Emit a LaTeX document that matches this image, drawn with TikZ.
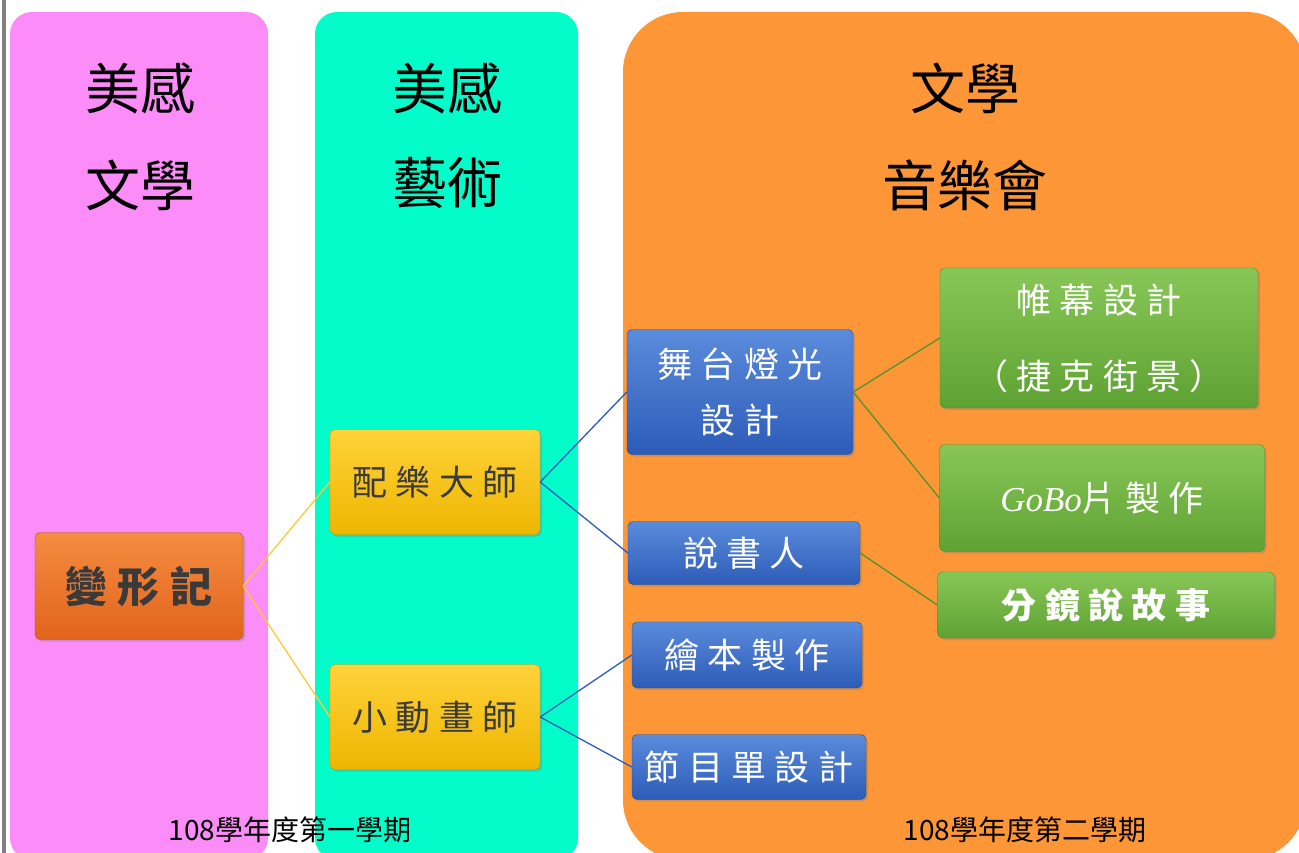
\documentclass[tikz,border=0pt]{standalone}
\usepackage{fontspec}
\newfontfamily\cjk{Noto Sans CJK TC}
\newfontfamily\cjkwide[LetterSpace=24]{Noto Sans CJK TC}
\newfontfamily\gobofont{Liberation Serif}
\usetikzlibrary{shadows}

\definecolor{pinkpanel}{HTML}{FB8CF8}
\definecolor{cyanpanel}{HTML}{02FCCA}
\definecolor{orangepanel}{HTML}{FD9637}
\definecolor{rusttop}{HTML}{F48C40}
\definecolor{rustbot}{HTML}{E2641C}
\definecolor{goldtop}{HTML}{FFD23A}
\definecolor{goldbot}{HTML}{EEB600}
\definecolor{bluetop}{HTML}{5B8BDB}
\definecolor{bluebot}{HTML}{2D5CB8}
\definecolor{greentop}{HTML}{88C757}
\definecolor{greenbot}{HTML}{5EA233}
\definecolor{inkgray}{HTML}{3A3A3A}

\begin{document}
\begin{tikzpicture}[x=1pt,y=-1pt,
  title/.style={font=\cjk\fontsize{55}{60}\selectfont, text=black},
  term/.style={font=\cjk\fontsize{28}{32}\selectfont, text=black},
  box/.style={rounded corners=5pt, inner sep=0pt, align=center,
    drop shadow={shadow xshift=2pt, shadow yshift=-2pt, opacity=0.35}},
  rustbox/.style={box, draw=rustbot!80!black, top color=rusttop, bottom color=rustbot,
    text=inkgray, font=\cjkwide\bfseries\fontsize{42}{48}\selectfont},
  goldbox/.style={box, draw=goldbot!85!black, top color=goldtop, bottom color=goldbot,
    text=inkgray, font=\cjkwide\fontsize{35}{40}\selectfont},
  bluebox/.style={box, draw=bluebot!80!black, top color=bluetop, bottom color=bluebot,
    text=white, font=\cjkwide\fontsize{35}{56}\selectfont},
  greenbox/.style={box, draw=greenbot!85!black, top color=greentop, bottom color=greenbot,
    text=white, font=\cjkwide\fontsize{35}{76}\selectfont},
  link/.style={line width=1.3pt}
]
\useasboundingbox (0,0) rectangle (1299,853);
\fill[white] (0,0) rectangle (1299,853);

% panels
\fill[pinkpanel, rounded corners=22] (10,12) rectangle (268,860);
\fill[cyanpanel, rounded corners=22] (315,12) rectangle (578,860);
\fill[orangepanel, rounded corners=60] (623,12) rectangle (1306,860);
\draw[gray, line width=4pt] (4,0) -- (4,853);

% titles
\node[title] (p1a) at (140,88) {美感};
\node[title] (p1b) at (140,185) {文學};
\node[title] (p2a) at (447,88) {美感};
\node[title] (p2b) at (447,183) {藝術};
\node[title] (p3a) at (965,88) {文學};
\node[title] (p3b) at (965,185) {音樂會};

% boxes
\node[rustbox, minimum width=208, minimum height=107] (bx) at (139,586) {變形記};
\node[goldbox, minimum width=210, minimum height=105] (pe) at (435,482) {配樂大師};
\node[goldbox, minimum width=210, minimum height=105] (xd) at (435,717) {小動畫師};

\node[bluebox, minimum width=226, minimum height=125] (wt) at (740,392) {舞台燈光\\設計};
\node[bluebox, minimum width=232, minimum height=63] (ss) at (744,553) {說書人};
\node[bluebox, minimum width=230, minimum height=66] (hb) at (747,655) {繪本製作};
\node[bluebox, minimum width=234, minimum height=65] (jm) at (749,767) {節目單設計};

\node[greenbox, minimum width=318, minimum height=140] (wm) at (1099,338) {帷幕設計\\（捷克街景）};
\node[greenbox, minimum width=325, minimum height=107] (gb) at (1102,498) {{\gobofont\itshape GoBo}片製作};
\node[greenbox, font=\cjkwide\bfseries\fontsize{35}{40}\selectfont, minimum width=337, minimum height=66] (fj) at (1106,605) {分鏡說故事};

% connectors
\foreach \a/\b in {bx/pe, bx/xd}
  \draw[link, goldtop!90!orange] (\a.east) -- (\b.west);
\foreach \a/\b in {pe/wt, pe/ss, xd/hb, xd/jm}
  \draw[link, bluebot] (\a.east) -- (\b.west);
\foreach \a/\b in {wt/wm, wt/gb, ss/fj}
  \draw[link, greenbot!90!black] (\a.east) -- (\b.west);

% terms
\node[term] (s1) at (290,830) {108學年度第一學期};
\node[term] (s2) at (1025,830) {108學年度第二學期};
\end{tikzpicture}
\end{document}
